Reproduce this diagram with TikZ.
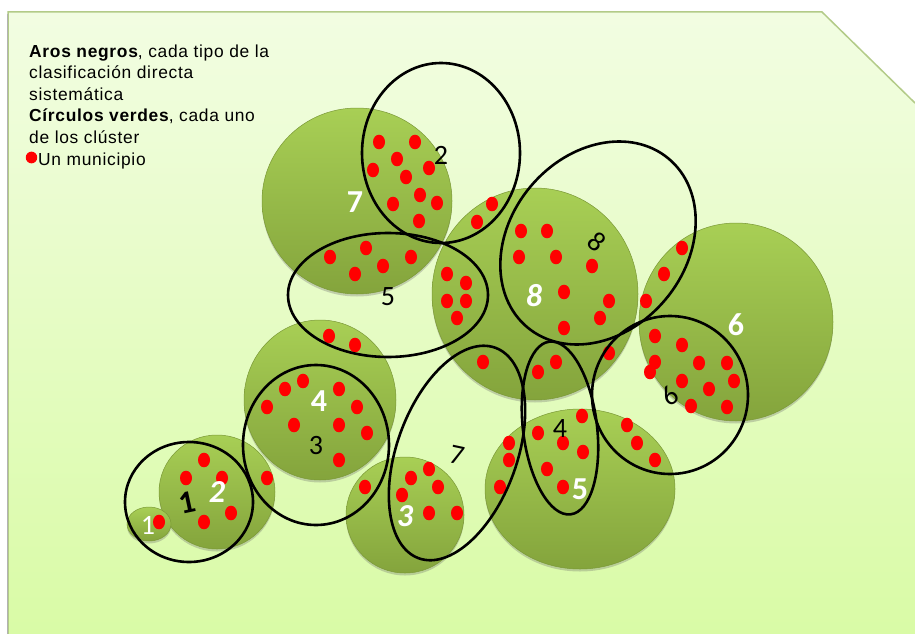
\documentclass[tikz,border=0pt]{standalone}
\usepackage{fontspec}
\setmainfont{Liberation Sans}[LetterSpace=4]
\newfontfamily\numfont{Carlito}
\usetikzlibrary{shapes.geometric,shadows}

\definecolor{bgtop}{HTML}{F2FDE2}
\definecolor{bgbot}{HTML}{D9FBA6}
\definecolor{bgedge}{HTML}{B3CB88}
\definecolor{gtop}{HTML}{A8CF55}
\definecolor{gbot}{HTML}{84A43C}
\definecolor{gedge}{HTML}{7A9836}
\definecolor{dotred}{HTML}{FF0000}

\tikzset{
 ball/.style={ellipse, inner sep=0pt, top color=gtop, bottom color=gbot, draw=gedge, line width=0.5pt,
   drop shadow={shadow xshift=0pt, shadow yshift=-2.5pt, opacity=0.3, fill=black!60}},
 ring/.style={ellipse, inner sep=0pt, draw=black, line width=2.6pt},
 wnum/.style={text=white, font=\numfont\bfseries\fontsize{32}{32}\selectfont, inner sep=0pt},
 bnum/.style={text=black, font=\numfont\fontsize{28}{28}\selectfont, inner sep=0pt},
 legend/.style={anchor=base west, inner sep=0pt, font=\fontsize{17.4}{21.6}\selectfont},
}

\begin{document}
\begin{tikzpicture}[x=1pt,y=-1pt]
\useasboundingbox (0,0) rectangle (915,634);
\fill[white] (0,0) rectangle (915,634);
\path[top color=bgtop, bottom color=bgbot] (8,12) -- (822,12) -- (915,103) -- (915,634) -- (8,634) -- cycle;
\draw[bgedge, line width=1.5pt] (8,634) -- (8,12) -- (822,12) -- (915,103);
\draw[black!30, line width=0.8pt] (7,14) -- (7,634);

% legend
\node[legend] (l1) at (29,57) {\textbf{Aros negros}, cada tipo de la};
\node[legend] (l2) at (29,78.6) {clasificación directa};
\node[legend] (l3) at (29,100.2) {sistemática};
\node[legend] (l4) at (29,121.8) {\textbf{Círculos verdes}, cada uno};
\node[legend] (l5) at (29,143.4) {de los clúster};
\node[legend] (l6) at (38,165) {Un municipio};
\fill[dotred] (31.5,157.5) ellipse [x radius=5.7pt, y radius=5.9pt];

% green clusters
\node[ball, minimum width=190pt, minimum height=186pt] (g7) at (357,201) {};
\node[ball, minimum width=206pt, minimum height=212pt] (g8) at (535,294) {};
\node[ball, minimum width=194pt, minimum height=198pt] (g6) at (736,322) {};
\node[ball, minimum width=152pt, minimum height=160pt] (g4) at (320,400) {};
\node[ball, minimum width=116pt, minimum height=114pt] (g2) at (217,492) {};
\node[ball, minimum width=44pt, minimum height=34pt] (g1) at (149,524) {};
\node[ball, minimum width=118pt, minimum height=116pt] (g3) at (405,515) {};
\node[ball, minimum width=190pt, minimum height=160pt] (g5) at (580,489) {};

% municipalities
\foreach \x/\y in {379/142,415/142,397/159,373/170,429/168,406/177,420/195,393/204,437/203,419/221,
  492/204,477/222,
  330/257,366/248,383/266,355/274,411/257,
  447/274,466/283,447/301,466/301,457/318,
  329/336,355/345,
  521/231,547/231,519/257,556/257,592/266,564/292,609/301,600/318,564/328,
  483/362,538/372,556/362,609/353,
  682/248,664/274,646/301,655/336,682/345,655/362,650/372,699/363,727/363,734/381,682/381,709/389,691/406,727/407,
  627/425,637/443,655/460,
  303/381,285/389,339/389,267/407,357/407,294/425,339/425,367/433,339/460,
  204/460,186/478,222/478,267/478,231/513,204/522,
  159/522,
  365/487,429/469,411/478,438/487,402/495,429/513,457/513,
  509/443,509/460,500/487,538/433,563/443,582/416,583/452,547/469,563/487}
  \fill[dotred] (\x,\y) ellipse [x radius=6pt, y radius=7.3pt];

% rings (types of the direct classification)
\node[ring, minimum width=158pt, minimum height=180pt] (r2) at (441,153) {};
\node[ring, minimum width=200pt, minimum height=124pt] (r5) at (388,295) {};
\node[ring, minimum width=220pt, minimum height=176pt, rotate=50] (r8) at (598,243) {};
\node[ring, minimum width=156pt, minimum height=158pt] (r6) at (670,395) {};
\node[ring, minimum width=74pt, minimum height=174pt, rotate=7] (r4) at (560,428) {};
\node[ring, minimum width=120pt, minimum height=224pt, rotate=-20] (r7) at (457,453) {};
\node[ring, minimum width=146pt, minimum height=160pt] (r3) at (316,445) {};
\node[ring, minimum width=128pt, minimum height=120pt] (r1) at (189,502) {};

% cluster numbers
\node[wnum] (n7) at (355,202) {7};
\node[wnum] (n8) at (534,296) {\itshape 8};
\node[wnum] (n6) at (736,325) {6};
\node[wnum] (n4) at (319,401) {4};
\node[wnum] (n2) at (217,492) {\itshape 2};
\node[wnum] (n3) at (405,516) {\itshape 3};
\node[wnum] (n5) at (580,489) {5};
\node[text=white, font=\numfont\fontsize{28}{28}\selectfont, inner sep=0pt] (n1) at (148,525) {1};

% type numbers
\node[bnum] (t2) at (441,155) {2};
\node[bnum] (t5) at (388,297) {5};
\node[bnum, rotate=-40] (t8) at (597,242) {8};
\node[bnum, rotate=35] (t6) at (670,396) {6};
\node[bnum] (t4) at (560,429) {4};
\node[bnum, rotate=-12] (t7) at (457,455) {7};
\node[bnum] (t3) at (316,446) {3};
\node[bnum, font=\numfont\bfseries\fontsize{32}{32}\selectfont, rotate=12] (t1) at (187,503) {1};
\end{tikzpicture}
\end{document}
